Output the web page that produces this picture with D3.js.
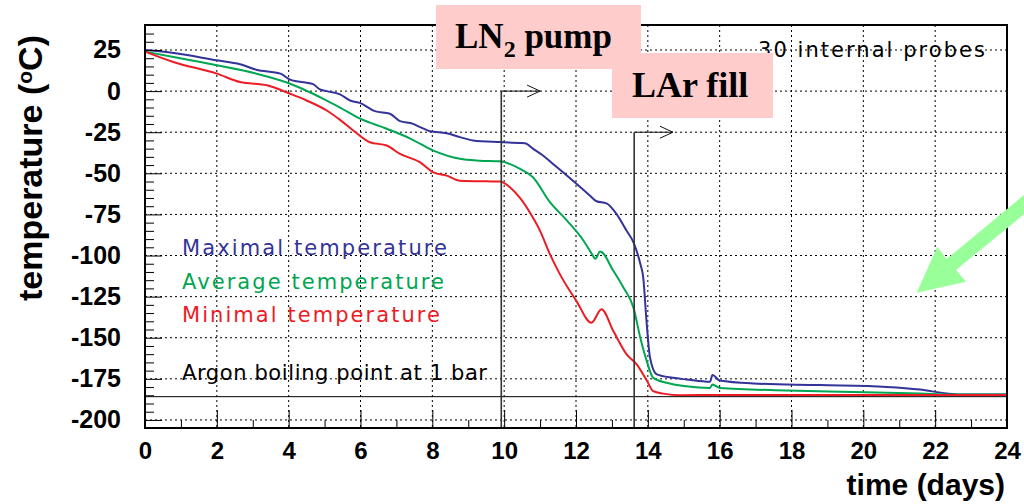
<!DOCTYPE html>
<html>
<head>
<meta charset="utf-8">
<script src="https://cdn.jsdelivr.net/npm/d3@7"></script>
<style>
  html, body { margin: 0; padding: 0; background: #fff; }
  svg { display: block; }
</style>
</head>
<body>
<svg id="chart" width="1024" height="504"></svg>
<script>
// ---------- data ----------
const maxDays = [0, 0.8, 2.0, 2.65, 3.1, 3.77, 4.04, 4.68, 4.87, 5.06, 5.43, 5.71, 6.0, 6.4, 6.82, 7.1, 7.46, 7.66, 7.93, 8.4, 8.77, 9.13, 9.88, 10.44, 10.58, 10.8, 11.08, 11.36, 11.64, 12.02, 12.39, 12.57, 12.85, 13.13, 13.41, 13.6, 13.79, 13.87, 13.97, 14.06, 14.25, 14.7, 15.08, 15.73, 15.8, 16.0, 16.93, 18.79, 20.65, 21.58, 22.32, 22.7, 24];
const maxTemp = [25, 23.2, 18.7, 16.3, 13, 10.6, 7, 4.2, 1, 0, -2, -5.7, -7.3, -12.2, -13.8, -18.3, -19.9, -21.9, -24.4, -25.6, -28, -30, -31, -31.5, -31.7, -35, -39.2, -44.3, -49.4, -56.5, -63.6, -67, -68.3, -74.8, -85, -92, -105, -113, -141.8, -162, -172.3, -174.4, -175.4, -176.8, -172.7, -176, -177.8, -178.8, -179.9, -181.5, -183.9, -184.5, -184.5];

const avgDays = [0, 0.79, 2.0, 3.1, 4.04, 4.68, 4.87, 5.43, 5.99, 6.73, 7.4, 8.03, 8.77, 9.32, 9.88, 10.44, 10.8, 11.28, 11.75, 12.21, 12.44, 12.54, 12.67, 13.04, 13.32, 13.6, 13.79, 13.97, 14.15, 14.52, 15.08, 15.73, 15.8, 16.0, 17.86, 19.71, 21.58, 22.5, 24];
const avgTemp = [24, 20.7, 15.7, 10.6, 4.5, -1.6, -3.7, -10, -16.8, -22.9, -29, -36.2, -41.2, -42.3, -42.7, -47.3, -52.4, -67.7, -78.8, -91, -99, -102, -97.5, -109.3, -119.5, -131.7, -150, -164.2, -174.4, -177.4, -179.5, -180.5, -178.4, -180.5, -182.1, -183, -183.9, -184.5, -184.5];

const minDays = [0, 0.79, 2.0, 2.65, 3.4, 4.04, 4.5, 5.06, 5.43, 5.8, 6.26, 6.73, 7.1, 7.66, 8.03, 8.4, 8.77, 9.5, 9.88, 10.16, 10.44, 10.72, 11.0, 11.27, 11.55, 12.01, 12.43, 12.71, 13.04, 13.41, 13.69, 13.97, 14.15, 14.43, 14.9, 16, 20, 24];
const minTemp = [24, 17.7, 10.6, 5.5, 3.5, -1.6, -5.7, -11.8, -17.5, -24, -31.1, -33.1, -38.2, -43.3, -49.4, -51.4, -54.5, -54.9, -55, -58.5, -65, -74, -85, -99, -111.3, -127.6, -140.9, -132.7, -145.9, -160.1, -166.2, -176, -182.5, -184, -185, -184.8, -184.8, -184.8];

const xTickValues = [0, 2, 4, 6, 8, 10, 12, 14, 16, 18, 20, 22, 24];
const yTickValues = [25, 0, -25, -50, -75, -100, -125, -150, -175, -200];
const argonBoiling = -185.85;
const ln2PumpDay = 9.92, larFillDay = 13.62;

const seriesNames = ["Maximal temperature", "Average temperature", "Minimal temperature"];
const seriesColors = ["#333399", "#00a651", "#ed1c24"];

// ---------- layout ----------
const svg = d3.select("#chart");
const x = d3.scaleLinear().domain([0, 24]).range([145, 1007]);
const y = d3.scaleLinear().domain([-204.9, 40.2]).range([428, 25]);
const [x0, x1] = x.range();
const [yb, yt] = y.range();

// grid (dotted)
const grid = svg.append("g").attr("stroke", "#000").attr("stroke-width", 1).attr("stroke-dasharray", "2,3");
grid.selectAll("line.gx").data(xTickValues.filter(d => d > 0 && d < 24)).join("line")
  .attr("x1", d => x(d)).attr("x2", d => x(d)).attr("y1", yt).attr("y2", yb);
grid.selectAll("line.gy").data(yTickValues).join("line")
  .attr("x1", x0).attr("x2", x1).attr("y1", d => y(d)).attr("y2", d => y(d));

// curves
const line = d3.line().x(d => x(d[0])).y(d => y(d[1])).curve(d3.curveMonotoneX);
const series = [d3.zip(maxDays, maxTemp), d3.zip(avgDays, avgTemp), d3.zip(minDays, minTemp)];
svg.append("g").selectAll("path").data(series).join("path")
  .attr("d", line).attr("fill", "none")
  .attr("stroke", (d, i) => seriesColors[i]).attr("stroke-width", 2);

// argon boiling line
svg.append("line").attr("x1", x0).attr("x2", x1)
  .attr("y1", y(argonBoiling)).attr("y2", y(argonBoiling))
  .attr("stroke", "#000").attr("stroke-width", 1);

// event markers (vertical line + open arrow)
function eventArrow(day, level, endDay) {
  const g = svg.append("g");
  g.append("line").attr("x1", x(day)).attr("x2", x(day)).attr("y1", yb).attr("y2", y(level))
    .attr("stroke", "#333").attr("stroke-width", 1.6);
  g.append("line").attr("x1", x(day)).attr("x2", x(endDay)).attr("y1", y(level)).attr("y2", y(level))
    .attr("stroke", "#111").attr("stroke-width", 1);
  const ex = x(endDay), ey = y(level);
  g.append("path").attr("d", `M${ex - 13},${ey - 6}L${ex},${ey}L${ex - 13},${ey + 6}`)
    .attr("fill", "none").attr("stroke", "#111").attr("stroke-width", 1);
}
eventArrow(ln2PumpDay, 0, 11.0);
eventArrow(larFillDay, -25, 14.7);

// axes: major + minor ticks pointing inward
const fmt = d3.format("d");
const xAxis = svg.append("g").attr("transform", `translate(0,${yb})`)
  .call(d3.axisBottom(x).tickValues(xTickValues).tickSize(-18).tickPadding(14).tickFormat(fmt));
svg.append("g").attr("transform", `translate(0,${yb})`)
  .call(d3.axisBottom(x).tickValues(d3.range(1, 24, 2)).tickSize(-8).tickFormat(""));
const yAxis = svg.append("g").attr("transform", `translate(${x0},0)`)
  .call(d3.axisLeft(y).tickValues(yTickValues).tickSize(-17).tickPadding(24).tickFormat(d => d3.format("d")(d).replace("−", "-")));
svg.append("g").attr("transform", `translate(${x0},0)`)
  .call(d3.axisLeft(y).tickValues(d3.range(-200, 40, 5).filter(v => v % 25 !== 0)).tickSize(-9).tickFormat(""));
svg.selectAll(".domain").remove();
svg.selectAll(".tick line").attr("stroke", "#000").attr("stroke-width", 1);
xAxis.selectAll("text").attr("font-family", "Liberation Sans, Arial, sans-serif")
  .attr("font-weight", "bold").attr("font-size", 24).attr("fill", "#000");
yAxis.selectAll("text").attr("font-family", "Liberation Sans, Arial, sans-serif")
  .attr("font-weight", "bold").attr("font-size", 25).attr("fill", "#000");

// frame
svg.append("rect").attr("x", x0).attr("y", yt).attr("width", x1 - x0).attr("height", yb - yt)
  .attr("fill", "none").attr("stroke", "#000").attr("stroke-width", 2);

// axis titles
svg.append("text").attr("x", 1005).attr("y", 495).attr("text-anchor", "end")
  .attr("font-family", "Liberation Sans, Arial, sans-serif").attr("font-weight", "bold")
  .attr("font-size", 30).text("time (days)");
const yt1 = svg.append("text").attr("transform", "translate(42,35) rotate(-90)").attr("text-anchor", "end")
  .attr("font-family", "Liberation Sans, Arial, sans-serif").attr("font-weight", "bold").attr("font-size", 34);
yt1.append("tspan").text("temperature (");
yt1.append("tspan").attr("font-size", 21).attr("dy", -10).text("o");
yt1.append("tspan").attr("dy", 10).text("C)");

// legend / annotation texts
const legendFont = "DejaVu Sans, Verdana, sans-serif";
const legendY = [255, 288.5, 321.5];
const legendW = [265, 262, 258];
svg.append("g").selectAll("text").data(seriesNames).join("text")
  .attr("x", 182).attr("y", (d, i) => legendY[i])
  .attr("font-family", legendFont).attr("font-size", 21)
  .attr("textLength", (d, i) => legendW[i]).attr("lengthAdjust", "spacing")
  .attr("fill", (d, i) => seriesColors[i]).text(d => d);
svg.append("text").attr("x", 182).attr("y", 380).attr("font-family", legendFont).attr("font-size", 21)
  .attr("textLength", 305).attr("lengthAdjust", "spacing").attr("fill", "#000")
  .text("Argon boiling point at 1 bar");
svg.append("text").attr("x", 758).attr("y", 57).attr("font-family", legendFont).attr("font-size", 21)
  .attr("textLength", 227).attr("lengthAdjust", "spacing").attr("fill", "#000")
  .text("30 internal probes");

// pink labels
const serif = "Liberation Serif, Times New Roman, serif";
svg.append("rect").attr("x", 436).attr("y", 5).attr("width", 205).attr("height", 64).attr("fill", "#ffcccc");
const ln = svg.append("text").attr("x", 455).attr("y", 48).attr("font-family", serif)
  .attr("font-weight", "bold").attr("font-size", 35).attr("fill", "#000");
ln.append("tspan").text("LN");
ln.append("tspan").attr("font-size", 24).attr("dy", 9).text("2");
ln.append("tspan").attr("dy", -9).text(" pump");
svg.append("rect").attr("x", 612).attr("y", 53).attr("width", 161).attr("height", 65).attr("fill", "#ffcccc");
svg.append("text").attr("x", 632).attr("y", 97).attr("font-family", serif)
  .attr("font-weight", "bold").attr("font-size", 36).attr("fill", "#000").text("LAr fill");

// green pointer arrow
svg.append("path")
  .attr("d", "M916.7,292.7 L937.3,246.7 L946.7,259 L1100,132 L1100,152 L956,270 L966,281.7 Z")
  .attr("fill", "#99ff99");
</script>
</body>
</html>
